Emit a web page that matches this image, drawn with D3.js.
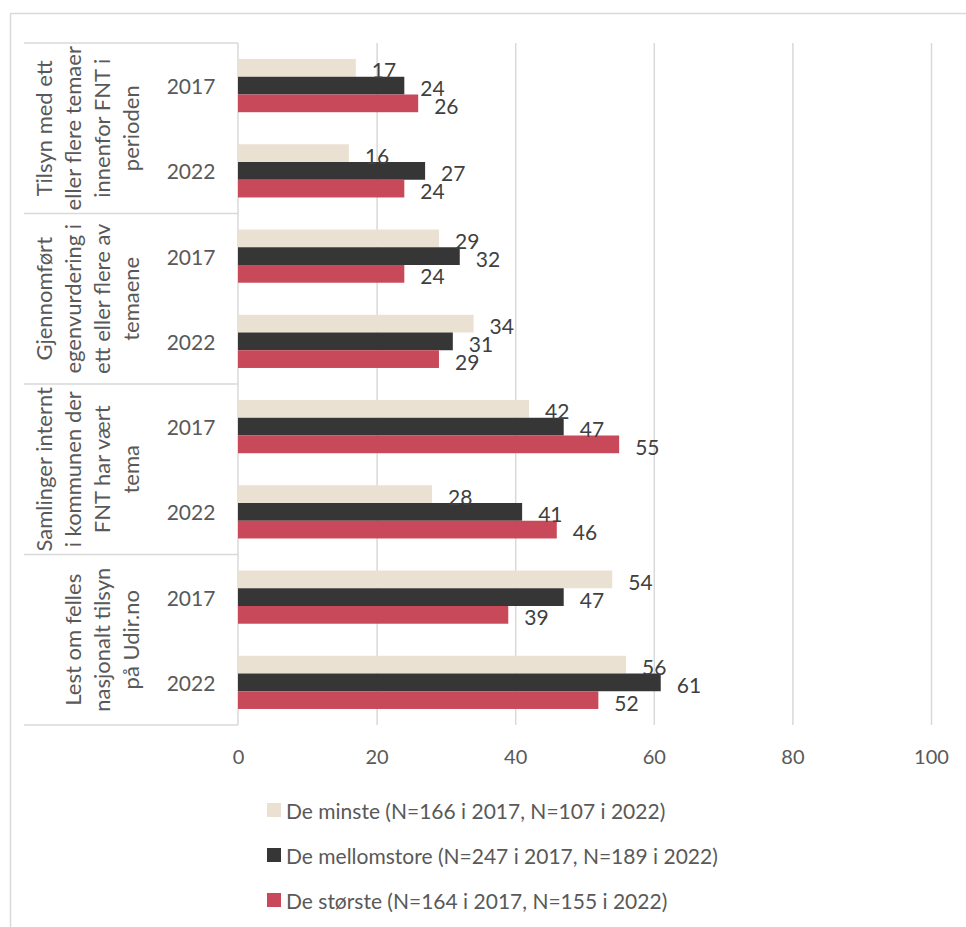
<!DOCTYPE html>
<html>
<head>
<meta charset="utf-8">
<script src="https://cdn.jsdelivr.net/npm/d3@7"></script>
<style>
  html, body { margin: 0; padding: 0; background: #ffffff; }
  svg { display: block; }
  text { font-family: Lato, "Open Sans", sans-serif; }
</style>
</head>
<body>
<svg id="chart" width="966" height="927"></svg>
<script>
// Categories: each group label is split into its displayed lines
const groups = [
  ["Tilsyn med ett", "eller flere temaer", "innenfor FNT i", "perioden"],
  ["Gjennomført", "egenvurdering i", "ett eller flere av", "temaene"],
  ["Samlinger internt", "i kommunen der", "FNT har vært", "tema"],
  ["Lest om felles", "nasjonalt tilsyn", "på Udir.no"]
];
const years = ["2017", "2022"];
const seriesNames = [
  "De minste (N=166 i 2017, N=107 i 2022)",
  "De mellomstore (N=247 i 2017, N=189 i 2022)",
  "De største (N=164 i 2017, N=155 i 2022)"
];
const seriesColors = ["#ebe1d3", "#363636", "#c84a5a"];

// Percent per group, per year: [2017, 2022]
const deMinste      = [[17, 16], [29, 34], [42, 28], [54, 56]];
const deMellomstore = [[24, 27], [32, 31], [47, 41], [47, 61]];
const deStorste     = [[26, 24], [24, 29], [55, 46], [39, 52]];
const seriesValues = [deMinste, deMellomstore, deStorste];

const xTicks = [0, 20, 40, 60, 80, 100];

const svg = d3.select("#chart");
const gridColor = "#d9d9d9";
const textColor = "#595959";
const labelColor = "#404040";

// outer frame
svg.append("rect")
  .attr("x", 10.5).attr("y", 13.5)
  .attr("width", 1000).attr("height", 1000)
  .attr("fill", "none").attr("stroke", gridColor).attr("stroke-width", 1.5);

const x = d3.scaleLinear().domain([0, 100]).range([238, 931]);
const groupIdx = d3.range(groups.length);
const y0 = d3.scaleBand().domain(groupIdx).range([43, 725]).padding(0);
const y1 = d3.scaleBand().domain(years).range([0, y0.bandwidth()]).padding(0);
const barBlock = 53.2;
const y2 = d3.scaleBand().domain(d3.range(seriesNames.length)).range([0, barBlock]).padding(0);

// vertical gridlines via axis
const xAxis = d3.axisBottom(x).tickValues(xTicks).tickSize(-(725 - 43)).tickPadding(20);
const gx = svg.append("g").attr("transform", "translate(0,725)").call(xAxis);
gx.select(".domain").remove();
gx.selectAll(".tick line").attr("stroke", gridColor).attr("stroke-width", 1.5)
  .filter(d => d === 0).remove();
gx.selectAll(".tick text")
  .attr("fill", textColor).attr("font-size", 20)
  .attr("dy", "0.35em").attr("y", 32);

// category axis box: group dividers and axis line
const dividers = groupIdx.map(i => y0(i)).concat([725]);
svg.append("g").selectAll("line").data(dividers).join("line")
  .attr("x1", 24).attr("x2", 238)
  .attr("y1", d => d).attr("y2", d => d)
  .attr("stroke", gridColor).attr("stroke-width", 1.5);
svg.append("line")
  .attr("x1", 238).attr("x2", 238).attr("y1", 43).attr("y2", 725)
  .attr("stroke", gridColor).attr("stroke-width", 1.5);

// bars and value labels
const rows = [];
groupIdx.forEach(g => {
  years.forEach((yr, yi) => {
    seriesValues.forEach((vals, s) => {
      const center = y0(g) + y1(yr) + y1.bandwidth() / 2;
      const top = center - barBlock / 2 + y2(s);
      rows.push({ g, yr, s, v: vals[g][yi], top });
    });
  });
});

svg.append("g").selectAll("rect").data(rows).join("rect")
  .attr("x", x(0))
  .attr("y", d => d.top)
  .attr("width", d => x(d.v) - x(0))
  .attr("height", y2.bandwidth())
  .attr("fill", d => seriesColors[d.s]);

svg.append("g").selectAll("text").data(rows).join("text")
  .attr("x", d => x(d.v) + 16)
  .attr("y", d => d.top + y2.bandwidth() / 2 + 2)
  .attr("dominant-baseline", "central")
  .attr("fill", labelColor)
  .attr("font-size", 21)
  .text(d => d.v);

// year labels
groupIdx.forEach(g => {
  years.forEach(yr => {
    svg.append("text")
      .attr("x", 191)
      .attr("y", y0(g) + y1(yr) + y1.bandwidth() / 2)
      .attr("text-anchor", "middle")
      .attr("dominant-baseline", "central")
      .attr("fill", textColor)
      .attr("font-size", 21)
      .text(yr);
  });
});

// rotated group labels, last line anchored next to the years
const lineGap = 29;
groupIdx.forEach(g => {
  const lines = groups[g];
  const cy = y0(g) + y0.bandwidth() / 2;
  const t = svg.append("text")
    .attr("transform", `translate(130,${cy}) rotate(-90)`)
    .attr("text-anchor", "middle")
    .attr("fill", textColor)
    .attr("font-size", 22);
  lines.forEach((ln, i) => {
    t.append("tspan")
      .attr("x", 0)
      .attr("y", (i - (lines.length - 1)) * lineGap)
      .attr("dominant-baseline", "central")
      .text(ln);
  });
});

// legend
const legend = svg.append("g");
seriesNames.forEach((name, i) => {
  const cy = 810 + i * 45;
  legend.append("rect")
    .attr("x", 267).attr("y", cy - 7)
    .attr("width", 14).attr("height", 14)
    .attr("fill", seriesColors[i]);
  legend.append("text")
    .attr("x", 286).attr("y", cy)
    .attr("dominant-baseline", "central")
    .attr("fill", textColor)
    .attr("font-size", 21)
    .text(name);
});
</script>
</body>
</html>
